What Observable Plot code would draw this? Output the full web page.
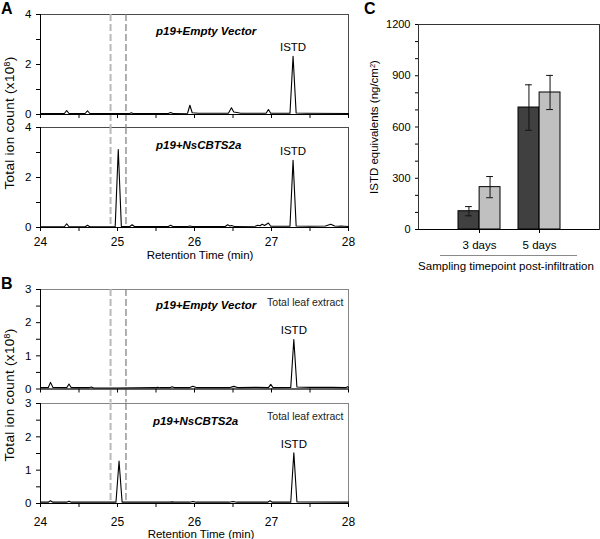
<!DOCTYPE html>
<html><head><meta charset="utf-8">
<script src="https://cdn.jsdelivr.net/npm/d3@7"></script>
<script src="https://cdn.jsdelivr.net/npm/@observablehq/plot@0.6"></script>
<style>
body{margin:0;background:#fff;}
#fig{position:relative;width:600px;height:539px;overflow:hidden;background:#fff;font-family:"Liberation Sans",Arial,Helvetica,sans-serif;color:#000;}
#fig .p{position:absolute;}
#fig svg{overflow:visible;background:transparent;}
.lbl{position:absolute;white-space:nowrap;font-size:11.5px;line-height:14px;transform:translateX(-50%);}
.letter{position:absolute;font-weight:bold;font-size:16px;line-height:16px;}
.ytitle{position:absolute;white-space:nowrap;font-size:11.5px;line-height:14px;transform:translate(-50%,-50%) rotate(-90deg);}
.ytitle.big{font-size:13.5px;letter-spacing:0.3px;}
.ytitle sup{font-size:0.65em;vertical-align:0.45em;line-height:0;}
.grp{position:absolute;border-top:1px solid #8a8a8a;height:0;}
</style></head><body><div id="fig"></div>
<script>
// ---------- data ----------
const retentionDomain = [24, 28];
const retentionTicks = [24, 24.5, 25, 25.5, 26, 26.5, 27, 27.5, 28];
const dashedTimes = [24.91, 25.11];
const sampleNames = ["p19+Empty Vector", "p19+NsCBTS2a"];
const istdTimes = [27.28, 27.29];          // A, B
const yTicksA = [0, 1, 2, 3, 4];
const yLabelsA = [0, 2, 4];
const yTicksB = [0, 0.5, 1, 1.5, 2, 2.5, 3];
const yLabelsB = [0, 1, 2, 3];

// [retention time (min), total ion count (x10^8)]
const traceAEmpty = [[24,0.04],[24.31,0.04],[24.34,0.16],[24.37,0.04],[24.58,0.04],[24.61,0.15],[24.64,0.04],[25.16,0.04],[25.18,0.07],[25.2,0.04],[25.66,0.04],[25.69,0.08],[25.72,0.04],[25.91,0.05],[25.94,0.37],[25.97,0.07],[26.05,0.05],[26.44,0.05],[26.48,0.27],[26.51,0.1],[26.55,0.08],[26.6,0.05],[26.93,0.05],[26.96,0.2],[26.99,0.05],[27.24,0.05],[27.28,2.33],[27.32,0.06],[27.45,0.05],[28,0.04]];
const traceACbts = [[24,0.03],[24.31,0.03],[24.34,0.15],[24.37,0.03],[24.58,0.03],[24.61,0.09],[24.64,0.03],[24.97,0.03],[25.01,3.12],[25.05,0.04],[25.16,0.04],[25.19,0.11],[25.22,0.04],[25.66,0.04],[25.69,0.09],[25.72,0.04],[25.91,0.04],[25.94,0.06],[25.97,0.04],[26.4,0.04],[26.43,0.11],[26.46,0.06],[26.48,0.08],[26.52,0.04],[26.79,0.05],[26.82,0.09],[26.85,0.07],[26.88,0.13],[26.91,0.08],[26.96,0.18],[26.99,0.05],[27.24,0.05],[27.28,2.69],[27.32,0.06],[27.5,0.05],[27.7,0.06],[27.77,0.13],[27.82,0.06],[27.87,0.05],[27.9,0.06],[28,0.04]];
const traceBEmpty = [[24,0.04],[24.1,0.04],[24.13,0.2],[24.16,0.05],[24.34,0.04],[24.37,0.15],[24.4,0.04],[24.63,0.04],[24.66,0.06],[24.69,0.03],[25.0,0.03],[25.49,0.04],[25.52,0.05],[25.55,0.04],[25.68,0.04],[25.71,0.07],[25.74,0.04],[25.93,0.04],[25.98,0.08],[26.03,0.04],[26.45,0.04],[26.51,0.08],[26.57,0.04],[26.8,0.05],[26.96,0.04],[26.99,0.14],[27.02,0.04],[27.25,0.05],[27.29,1.49],[27.33,0.06],[27.5,0.05],[27.78,0.05],[27.96,0.04],[27.99,0.07],[28,0.05]];
const traceBCbts = [[24,0.04],[24.1,0.04],[24.13,0.08],[24.16,0.04],[24.34,0.04],[24.37,0.07],[24.4,0.04],[24.98,0.04],[25.02,1.27],[25.06,0.04],[25.68,0.04],[25.71,0.05],[25.74,0.04],[25.94,0.04],[25.98,0.06],[26.02,0.04],[26.45,0.04],[26.5,0.06],[26.55,0.04],[26.95,0.04],[26.98,0.08],[27.01,0.04],[27.25,0.04],[27.29,1.52],[27.33,0.05],[28,0.04]];

// sample-name annotation anchor (time, count)
const nameLabelAt = [[25.5, 3.33], [25.5, 3.3], [25.5, 2.52], [25.46, 2.48]];

// Panel C
const days = ["3 days", "5 days"];
const darkMean = [107, 714];
const darkErr = [27, 133];
const lightMean = [248, 802];
const lightErr = [62, 100];
const cTicks = [0,100,200,300,400,500,600,700,800,900,1000,1100,1200];
const cLabelTicks = [0, 300, 600, 900, 1200];

// ---------- drawing ----------
const fig = document.getElementById("fig");
const FONT = '"Liberation Sans", Arial, Helvetica, sans-serif';

function place(node, left, top) {
  const w = document.createElement("div");
  w.className = "p"; w.style.left = left + "px"; w.style.top = top + "px";
  w.appendChild(node); fig.appendChild(w);
}
function html(cls, content, style) {
  const d = document.createElement("div");
  d.className = cls; d.innerHTML = content; Object.assign(d.style, style); fig.appendChild(d);
}

function chromatogram(o) {
  const height = o.marginTop + o.innerH + o.marginBottom;
  const istdY = o.trace.find(d => d[0] === o.istdTime)[1];
  const marks = [
    Plot.frame({stroke: o.frameStroke}),
    Plot.ruleX([dashedTimes[0]], {stroke: "#b9b9b9", strokeWidth: 2, strokeDasharray: "7,3", insetBottom: -o.gapBelow}),
    Plot.ruleX([dashedTimes[1]], {stroke: "#7c7c7c", strokeWidth: 1.2, strokeDasharray: "7,3", insetBottom: -o.gapBelow}),
    Plot.ruleX([retentionDomain[0]], {stroke: "#000"}),
    Plot.ruleY([0], {stroke: "#000"}),
    Plot.axisY({ticks: o.yTicks, tickFormat: d => o.yLabels.includes(d) ? String(d) : "", tickSize: 4, tickPadding: 5, label: null}),
    Plot.axisX({ticks: retentionTicks, tickFormat: d => (o.showX && Number.isInteger(d)) ? String(d) : "", tickSize: 4, tickPadding: o.tickPad, fontSize: 12, label: null}),
    Plot.line(o.trace, {x: d => d[0], y: d => d[1], stroke: "#000", strokeWidth: 1.1, strokeLinejoin: "round"}),
    Plot.text([{t: o.nameAt[0], v: o.nameAt[1], s: o.name}], {x: "t", y: "v", text: "s", textAnchor: "start", fontWeight: "bold", fontStyle: "italic", fontSize: 11.5}),
    Plot.text([{t: o.istdTime, v: istdY}], {x: "t", y: "v", text: () => "ISTD", dy: -9, fontSize: 11.5})
  ];
  if (o.leaf) marks.push(Plot.text(["Total leaf extract"], {frameAnchor: "top-right", text: d => d, dx: -5, dy: 9, fontSize: 10.5, fill: "#222"}));
  return Plot.plot({
    width: 360, height,
    marginLeft: 40, marginRight: 12, marginTop: o.marginTop, marginBottom: o.marginBottom,
    x: {domain: retentionDomain},
    y: {domain: [0, o.yMax]},
    style: {fontFamily: FONT, fontSize: "11.5px", background: "transparent", overflow: "visible", color: "#000"},
    marks
  });
}

// Panel A
place(chromatogram({trace: traceAEmpty, yMax: 4, yTicks: yTicksA, yLabels: yLabelsA, marginTop: 14, innerH: 100, marginBottom: 6,
  showX: false, tickPad: 6, frameStroke: "#4a4a4a", gapBelow: 13, name: sampleNames[0], nameAt: nameLabelAt[0], istdTime: istdTimes[0], leaf: false}), 0, 0);
place(chromatogram({trace: traceACbts, yMax: 4, yTicks: yTicksA, yLabels: yLabelsA, marginTop: 7, innerH: 100, marginBottom: 33,
  showX: true, tickPad: 6, frameStroke: "#4a4a4a", gapBelow: 0, name: sampleNames[1], nameAt: nameLabelAt[1], istdTime: istdTimes[0], leaf: false}), 0, 120);

// Panel B
place(chromatogram({trace: traceBEmpty, yMax: 3, yTicks: yTicksB, yLabels: yLabelsB, marginTop: 14, innerH: 99.5, marginBottom: 6,
  showX: false, tickPad: 6, frameStroke: "#858585", gapBelow: 14, name: sampleNames[0], nameAt: nameLabelAt[2], istdTime: istdTimes[1], leaf: true}), 0, 275);
place(chromatogram({trace: traceBCbts, yMax: 3, yTicks: yTicksB, yLabels: yLabelsB, marginTop: 8, innerH: 100, marginBottom: 36,
  showX: true, tickPad: 10, frameStroke: "#858585", gapBelow: 0, name: sampleNames[1], nameAt: nameLabelAt[3], istdTime: istdTimes[1], leaf: true}), 0, 394.5);

// Panel C
const dark = days.map((d, i) => ({day: d, value: darkMean[i], err: darkErr[i]}));
const light = days.map((d, i) => ({day: d, value: lightMean[i], err: lightErr[i]}));
const cW = 240, cML = 58, cMR = 1, pIn = 0.3, pOut = 0.65;
const step = (cW - cML - cMR) / (days.length - pIn + 2 * pOut);
const half = step * (1 - pIn) / 2;
const cap = 3.5;
const errMarks = (data, side) => [
  Plot.ruleX(data, {x: "day", y1: d => d.value - d.err, y2: d => d.value + d.err, dx: side * half / 2, stroke: "#111"}),
  Plot.tickY(data, {x: "day", y: d => d.value + d.err, stroke: "#111",
    insetLeft: side < 0 ? half / 2 - cap : 1.5 * half - cap, insetRight: side < 0 ? 1.5 * half - cap : half / 2 - cap}),
  Plot.tickY(data, {x: "day", y: d => d.value - d.err, stroke: "#111",
    insetLeft: side < 0 ? half / 2 - cap : 1.5 * half - cap, insetRight: side < 0 ? 1.5 * half - cap : half / 2 - cap})
];
place(Plot.plot({
  width: cW, height: 255, marginLeft: cML, marginRight: cMR, marginTop: 24, marginBottom: 26,
  x: {type: "band", domain: days, paddingInner: pIn, paddingOuter: pOut},
  y: {domain: [0, 1200]},
  style: {fontFamily: FONT, fontSize: "11.5px", background: "transparent", overflow: "visible", color: "#000"},
  marks: [
    Plot.frame({stroke: "#333"}),
    Plot.barY(dark, {x: "day", y: "value", fill: "#404040", stroke: "#000", insetRight: half}),
    Plot.barY(light, {x: "day", y: "value", fill: "#c0c0c0", stroke: "#000", insetLeft: half}),
    ...errMarks(dark, -1),
    ...errMarks(light, 1),
    Plot.ruleY([0], {stroke: "#000"}),
    Plot.axisY({ticks: cTicks, tickFormat: d => cLabelTicks.includes(d) ? String(d) : "", tickSize: 3, tickPadding: 5, fontSize: 11, label: null}),
    Plot.axisX({tickSize: 4, tickPadding: 7.5, label: null})
  ]
}), 360, 0);

// Titles and letters
html("letter", "A", {left: "1px", top: "0.5px"});
html("letter", "B", {left: "1px", top: "276px"});
html("letter", "C", {left: "364px", top: "1px"});
html("ytitle big", "Total ion count (x10<sup>8</sup>)", {left: "10px", top: "123px"});
html("ytitle big", "Total ion count (x10<sup>8</sup>)", {left: "10px", top: "395px"});
html("ytitle", "ISTD equivalents (ng/cm<sup>2</sup>)", {left: "374px", top: "127px"});
html("lbl", "Retention Time (min)", {left: "200px", top: "248px"});
html("lbl", "Retention Time (min)", {left: "201px", top: "527px"});
html("grp", "", {left: "440px", top: "255px", width: "137px"});
html("lbl", "Sampling timepoint post-infiltration", {left: "506px", top: "259px"});
</script></body></html>
